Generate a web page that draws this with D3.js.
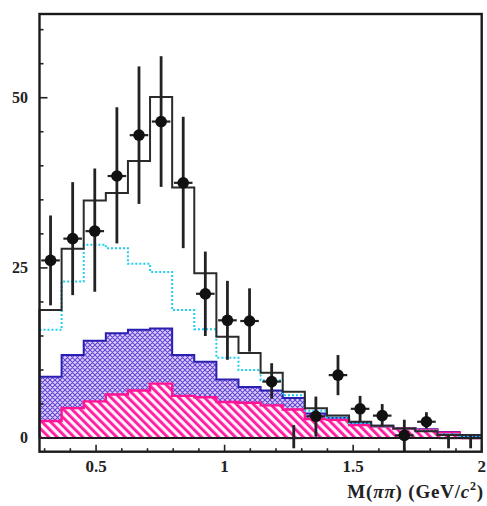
<!DOCTYPE html>
<html>
<head>
<meta charset="utf-8">
<script src="https://cdn.jsdelivr.net/npm/d3@7"></script>
<style>
  html, body { margin: 0; padding: 0; background: #fff; }
  svg { display: block; }
  text { font-family: "Liberation Serif", "DejaVu Serif", serif; font-weight: bold; fill: #222; }
</style>
</head>
<body>
<svg id="chart" width="487" height="506"></svg>
<script>
// Bin edges of the M(pi pi) histogram (GeV/c^2)
const binEdges = [0.280, 0.366, 0.452, 0.538, 0.624, 0.710, 0.796, 0.882, 0.968, 1.054,
                  1.140, 1.226, 1.312, 1.398, 1.484, 1.570, 1.656, 1.742, 1.828, 1.914, 2.000];

// Total expectation (black step line)
const totalHist = [18.8, 27.8, 34.9, 36.0, 40.7, 50.1, 36.8, 24.2, 14.9, 12.5,
                   9.6, 6.8, 4.4, 3.3, 2.4, 1.8, 1.4, 1.0, 0.45, 0.45];

// Dotted cyan component
const cyanHist = [15.9, 23.0, 28.4, 27.9, 25.6, 24.4, 18.8, 16.0, 11.8, 10.0,
                  8.5, 6.3, 4.0, 3.0, 2.2, 1.7, 1.4, 1.1, 0.6, 0.3];

// Cross-hatched (blue) background, stacked total
const blueHist = [9.0, 12.2, 14.3, 15.4, 15.9, 16.1, 12.2, 11.2, 8.6, 7.5,
                  7.0, 5.9, 3.6, 3.0, 2.3, 1.8, 1.5, 1.3, 0.9, 0.3];

// Diagonal-hatched (magenta) background
const magentaHist = [2.5, 4.4, 5.4, 6.4, 7.0, 8.0, 6.2, 6.0, 5.3, 5.2,
                     4.8, 4.2, 2.8, 2.7, 1.9, 1.7, 1.4, 1.2, 0.8, 0.0];

// Data points with errors
const dataVals  = [26.1, 29.3, 30.4, 38.5, 44.5, 46.5, 37.5, 21.2, 17.3, 17.2,
                   8.3, 0.0, 3.2, 9.25, 4.3, 3.3, 0.4, 2.4, 0.0, 0.0];
const dataErrHi = [6.6, 8.3, 9.2, 10.1, 10.1, 9.6, 9.7, 6.2, 5.8, 4.8,
                   2.7, 1.9, 2.9, 2.95, 1.9, 1.7, 2.3, 1.4, 0.4, 0.4];
const dataErrLo = [6.6, 8.3, 8.9, 9.9, 10.1, 9.6, 9.6, 6.2, 5.8, 4.5,
                   2.5, 1.5, 3.0, 2.95, 1.9, 1.6, 2.3, 1.0, 1.5, 1.5];

// Axis ticks
const xMajorTicks = [0.5, 1, 1.5, 2];
const xMajorLabels = ["0.5", "1", "1.5", "2"];
const xMinorTicks = [0.3, 0.4, 0.6, 0.7, 0.8, 0.9, 1.1, 1.2, 1.3, 1.4, 1.6, 1.7, 1.8, 1.9];
const yMajorTicks = [0, 25, 50];
const yMinorTicks = [5, 10, 15, 20, 30, 35, 40, 45, 55, 60];

const svg = d3.select("#chart");
const mLeft = 39.5, mRight = 481.7, mTop = 14, mBottom = 451.7;

const x = d3.scaleLinear().domain([0.28, 2.0]).range([mLeft, mRight]);
const y = d3.scaleLinear().domain([-2, 62.3]).range([mBottom, mTop]);

// Fill patterns
const defs = svg.append("defs");
const cross = defs.append("pattern")
  .attr("id", "crosshatch").attr("patternUnits", "userSpaceOnUse")
  .attr("width", 5).attr("height", 5);
cross.append("rect").attr("width", 5).attr("height", 5).attr("fill", "#e4ccfa");
cross.append("path").attr("d", "M0,0 L5,5 M5,0 L0,5 M-1,4 L1,6 M4,-1 L6,1 M-1,1 L1,-1 M4,6 L6,4")
  .attr("stroke", "#5c48d4").attr("stroke-width", 1.1);

const diag = defs.append("pattern")
  .attr("id", "diaghatch").attr("patternUnits", "userSpaceOnUse")
  .attr("width", 6).attr("height", 6).attr("patternTransform", "rotate(-45)");
diag.append("rect").attr("width", 6).attr("height", 6).attr("fill", "#fff2fb");
diag.append("rect").attr("width", 2.8).attr("height", 6).attr("fill", "#ff1aa0");

// Step-shape point lists from bin edges and contents
function steps(vals) {
  const pts = [];
  vals.forEach((v, i) => {
    pts.push([binEdges[i], v]);
    pts.push([binEdges[i + 1], v]);
  });
  return pts;
}

const area = d3.area().x(d => x(d[0])).y0(y(0)).y1(d => y(d[1]));
const line = d3.line().x(d => x(d[0])).y(d => y(d[1]));

const plot = svg.append("g");

// Cross-hatched background
plot.append("path").datum(steps(blueHist))
  .attr("d", area).attr("fill", "url(#crosshatch)");
plot.append("path").datum(steps(blueHist))
  .attr("d", line).attr("fill", "none").attr("stroke", "#2a1fb0").attr("stroke-width", 2);

// Diagonal-hatched background
plot.append("path").datum(steps(magentaHist))
  .attr("d", area).attr("fill", "url(#diaghatch)");
plot.append("path").datum(steps(magentaHist))
  .attr("d", line).attr("fill", "none").attr("stroke", "#ff1493").attr("stroke-width", 2.4);

// Dotted cyan component
plot.append("path").datum(steps(cyanHist))
  .attr("d", line).attr("fill", "none").attr("stroke", "#1fd0ee")
  .attr("stroke-width", 2).attr("stroke-dasharray", "2,2");

// Total
plot.append("path").datum([[binEdges[0], 0]].concat(steps(totalHist)))
  .attr("d", line).attr("fill", "none").attr("stroke", "#2b2b2b").attr("stroke-width", 2);

// Zero line
plot.append("line")
  .attr("x1", mLeft).attr("x2", mRight).attr("y1", y(0)).attr("y2", y(0))
  .attr("stroke", "#1a1a1a").attr("stroke-width", 2);

// Data points
const points = dataVals.map((v, i) => ({
  x: (binEdges[i] + binEdges[i + 1]) / 2,
  v: v, hi: dataErrHi[i], lo: dataErrLo[i]
}));
const halfW = (binEdges[1] - binEdges[0]) * 0.42;
const pg = plot.append("g").selectAll("g").data(points).join("g");
pg.append("line")
  .attr("x1", d => x(d.x)).attr("x2", d => x(d.x))
  .attr("y1", d => y(d.v + d.hi))
  .attr("y2", d => Math.min(mBottom, y(d.v - d.lo)))
  .attr("stroke", "#222").attr("stroke-width", 2.8);
pg.append("line")
  .attr("x1", d => x(d.x - halfW)).attr("x2", d => x(d.x + halfW))
  .attr("y1", d => y(d.v)).attr("y2", d => y(d.v))
  .attr("stroke", "#222").attr("stroke-width", 2.2);
pg.filter(d => d.v > 0).append("circle")
  .attr("cx", d => x(d.x)).attr("cy", d => y(d.v)).attr("r", 5.8).attr("fill", "#111");

// Frame
svg.append("rect")
  .attr("x", mLeft).attr("y", mTop).attr("width", mRight - mLeft).attr("height", mBottom - mTop)
  .attr("fill", "none").attr("stroke", "#1a1a1a").attr("stroke-width", 2.4);

// Ticks (inward)
const ticks = svg.append("g").attr("stroke", "#222").attr("stroke-width", 1.6);
xMajorTicks.forEach(t => ticks.append("line")
  .attr("x1", x(t)).attr("x2", x(t)).attr("y1", mBottom).attr("y2", mBottom - 7));
xMinorTicks.forEach(t => ticks.append("line")
  .attr("x1", x(t)).attr("x2", x(t)).attr("y1", mBottom).attr("y2", mBottom - 3.5));
yMajorTicks.forEach(t => ticks.append("line")
  .attr("x1", mLeft).attr("x2", mLeft + 8).attr("y1", y(t)).attr("y2", y(t)));
yMinorTicks.forEach(t => ticks.append("line")
  .attr("x1", mLeft).attr("x2", mLeft + 4).attr("y1", y(t)).attr("y2", y(t)));

// Tick labels
svg.append("g").selectAll("text").data(xMajorTicks).join("text")
  .attr("x", d => x(d)).attr("y", 472)
  .attr("text-anchor", "middle").attr("font-size", 17)
  .text((d, i) => xMajorLabels[i]);
svg.append("g").selectAll("text").data(yMajorTicks).join("text")
  .attr("x", 28).attr("y", d => y(d) + 5)
  .attr("text-anchor", "end").attr("font-size", 16)
  .text(d => d);

// Axis title
const title = svg.append("text")
  .attr("x", 484).attr("y", 498).attr("text-anchor", "end")
  .attr("font-size", 19).attr("letter-spacing", 0.8);
title.append("tspan").text("M(");
title.append("tspan").attr("font-style", "italic").text("ππ");
title.append("tspan").text(") (GeV/");
title.append("tspan").attr("font-style", "italic").text("c");
title.append("tspan").attr("font-size", 12).attr("dy", -8).text("2");
title.append("tspan").attr("dy", 8).text(")");
</script>
</body>
</html>
